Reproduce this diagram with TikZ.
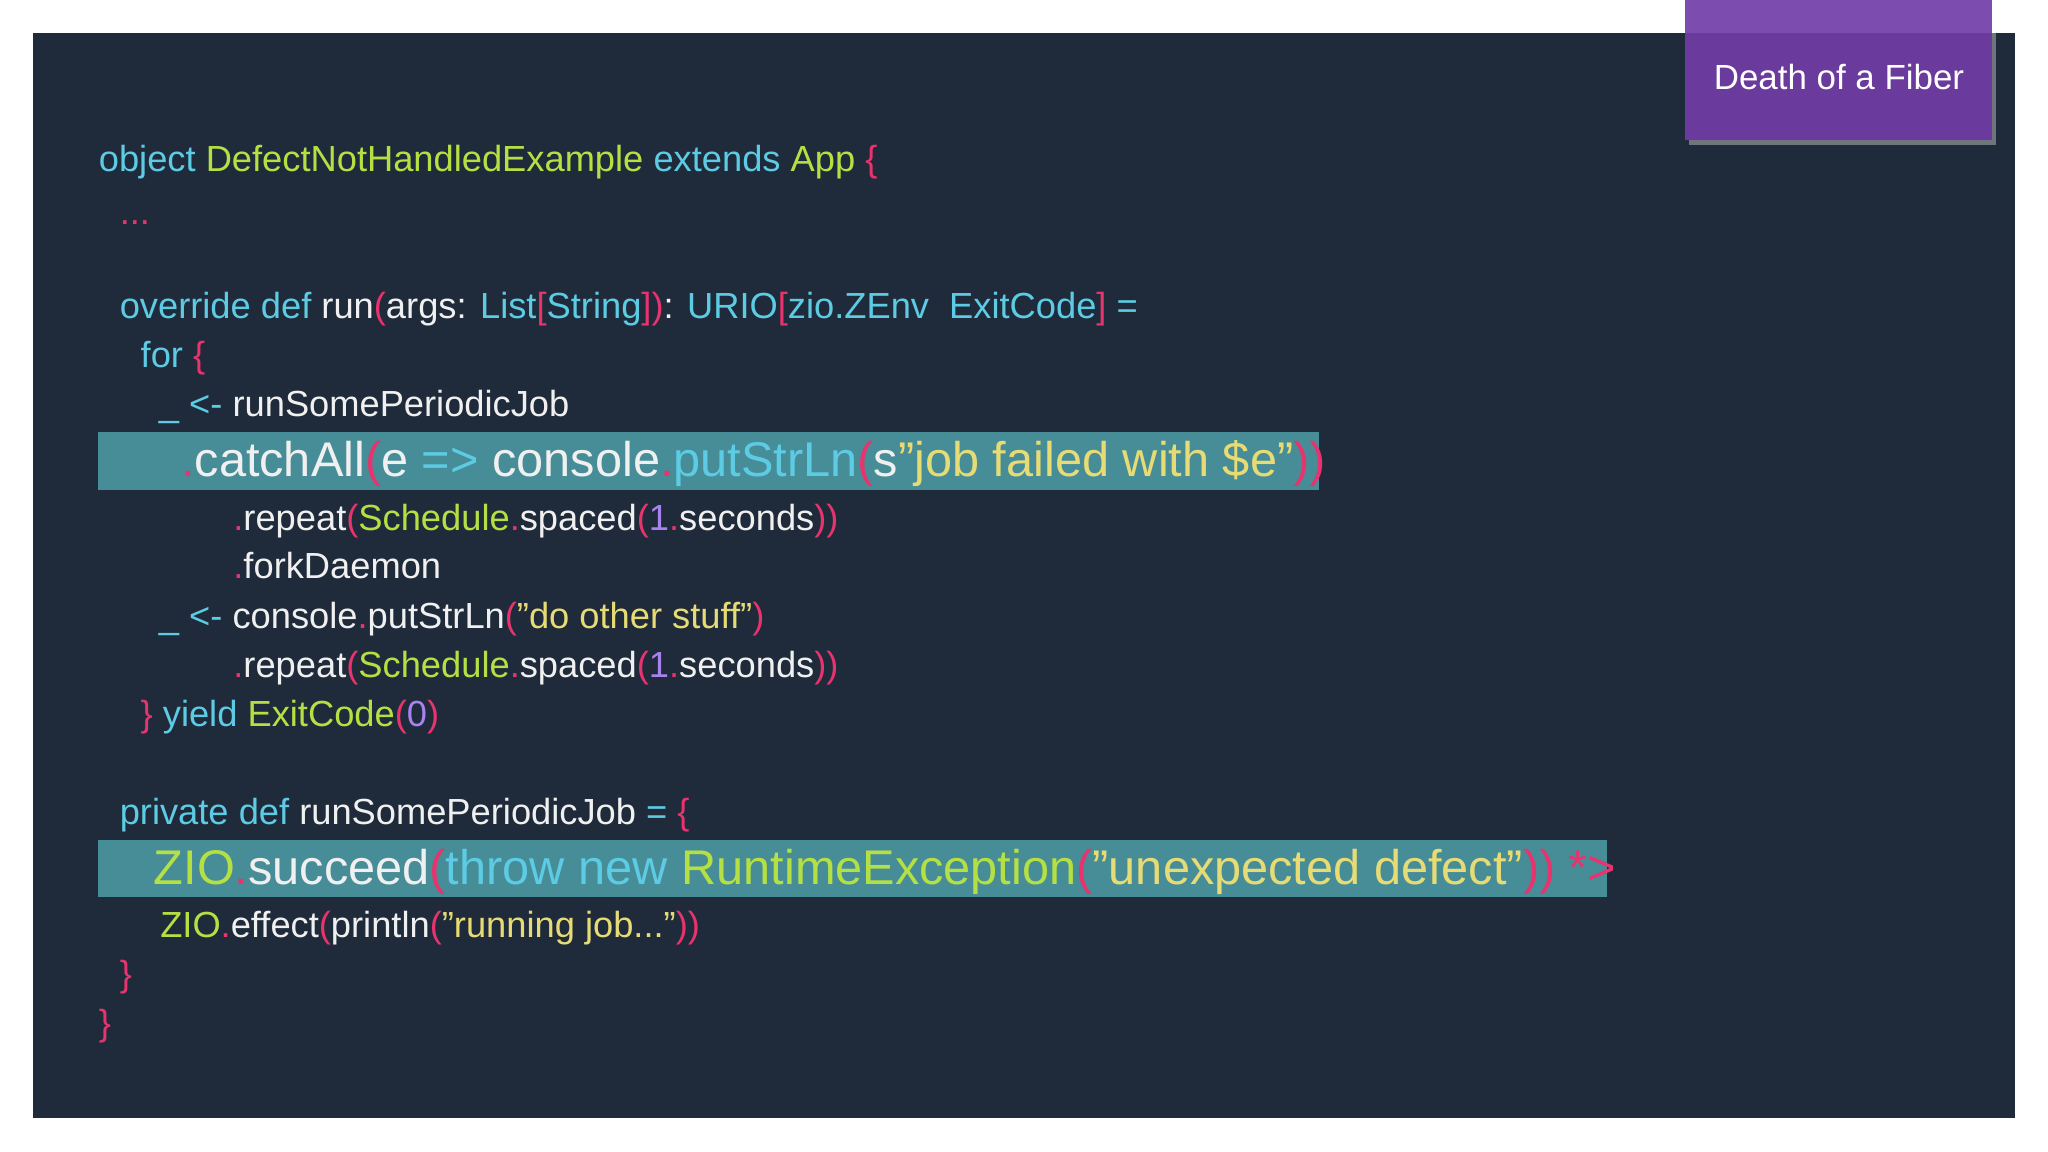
\documentclass[tikz,border=0pt]{standalone}
\usepackage{fontspec}
\setmainfont{Liberation Sans}
\definecolor{bg}{HTML}{1F2B3A}
\definecolor{ckwc}{HTML}{5CCBE3}
\definecolor{cgrc}{HTML}{B5E043}
\definecolor{cpkc}{HTML}{E8336E}
\definecolor{cstc}{HTML}{E6DB74}
\definecolor{cnmc}{HTML}{A883F0}
\definecolor{hl}{HTML}{478D98}
\definecolor{hdr}{HTML}{6A3A9C}
\definecolor{hdrtop}{HTML}{7C4CAE}
\newcommand\ckw[1]{\textcolor{ckwc}{#1}}
\newcommand\cgr[1]{\textcolor{cgrc}{#1}}
\newcommand\cpk[1]{\textcolor{cpkc}{#1}}
\newcommand\cst[1]{\textcolor{cstc}{#1}}
\newcommand\cnm[1]{\textcolor{cnmc}{#1}}
\begin{document}
\begin{tikzpicture}[x=0.01cm,y=-0.01cm,
  code/.style={anchor=base west,inner sep=0pt,text=white!94!black,font=\fontsize{7.9pt}{9pt}\selectfont},
  big/.style={code,font=\fontsize{10.6pt}{12pt}\selectfont}]
\useasboundingbox (0,0) rectangle (1568,882);
\fill[white] (0,0) rectangle (1568,882);
\fill[bg] (25,25) rectangle (1543,856);
\fill[black!25,opacity=0.5] (1293,25) rectangle (1528,111);
\fill[hdr] (1290,0) rectangle (1525,107);
\fill[hdrtop] (1290,0) rectangle (1525,25);
\node[text=white,font=\fontsize{7.6pt}{9pt}\selectfont] (title) at (1408,59) {Death of a Fiber};
\fill[hl] (75,331) rectangle (1010,375);
\fill[hl] (75,643) rectangle (1230,687);
\node[code] (l1) at (75,131) {\ckw{object} \cgr{DefectNotHandledExample} \ckw{extends} \cgr{App} \cpk{\{}};
\node[code] (l2) at (91,172) {\cpk{...}};
\node[code] (l3) at (91,244) {\ckw{override} \ckw{def} run\cpk{(}args: \ckw{List}\cpk{[}\ckw{String}\cpk{])}: \ckw{URIO}\cpk{[}\ckw{zio.ZEnv}\ \ \ckw{ExitCode}\cpk{]} \ckw{=}};
\node[code] (l4) at (107,281) {\ckw{for} \cpk{\{}};
\node[code] (l5) at (121,319) {\ckw{\_} \ckw{<-} runSomePeriodicJob};
\node[big] (l6) at (138,365) {\cpk{.}catchAll\cpk{(}e \ckw{=>} console\cpk{.}\ckw{putStrLn}\cpk{(}s\cst{"job failed with \$e"}\cpk{))}};
\node[code] (l7) at (178,406) {\cpk{.}repeat\cpk{(}\cgr{Schedule}\cpk{.}spaced\cpk{(}\cnm{1}\cpk{.}seconds\cpk{))}};
\node[code] (l8) at (178,443) {\cpk{.}forkDaemon};
\node[code] (l9) at (121,481) {\ckw{\_} \ckw{<-} console\cpk{.}putStrLn\cpk{(}\cst{"do other stuff"}\cpk{)}};
\node[code] (l10) at (178,519) {\cpk{.}repeat\cpk{(}\cgr{Schedule}\cpk{.}spaced\cpk{(}\cnm{1}\cpk{.}seconds\cpk{))}};
\node[code] (l11) at (107,556) {\cpk{\}} \ckw{yield} \cgr{ExitCode}\cpk{(}\cnm{0}\cpk{)}};
\node[code] (l12) at (91,631) {\ckw{private} \ckw{def} runSomePeriodicJob \ckw{=} \cpk{\{}};
\node[big] (l13) at (117,677) {\cgr{ZIO}\cpk{.}succeed\cpk{(}\ckw{throw} \ckw{new} \cgr{RuntimeException}\cpk{(}\cst{"unexpected defect"}\cpk{))} \cpk{*>}};
\node[code] (l14) at (122,718) {\cgr{ZIO}\cpk{.}effect\cpk{(}println\cpk{(}\cst{"running job..."}\cpk{))}};
\node[code] (l15) at (91,755) {\cpk{\}}};
\node[code] (l16) at (75,793) {\cpk{\}}};
\end{tikzpicture}
\end{document}
